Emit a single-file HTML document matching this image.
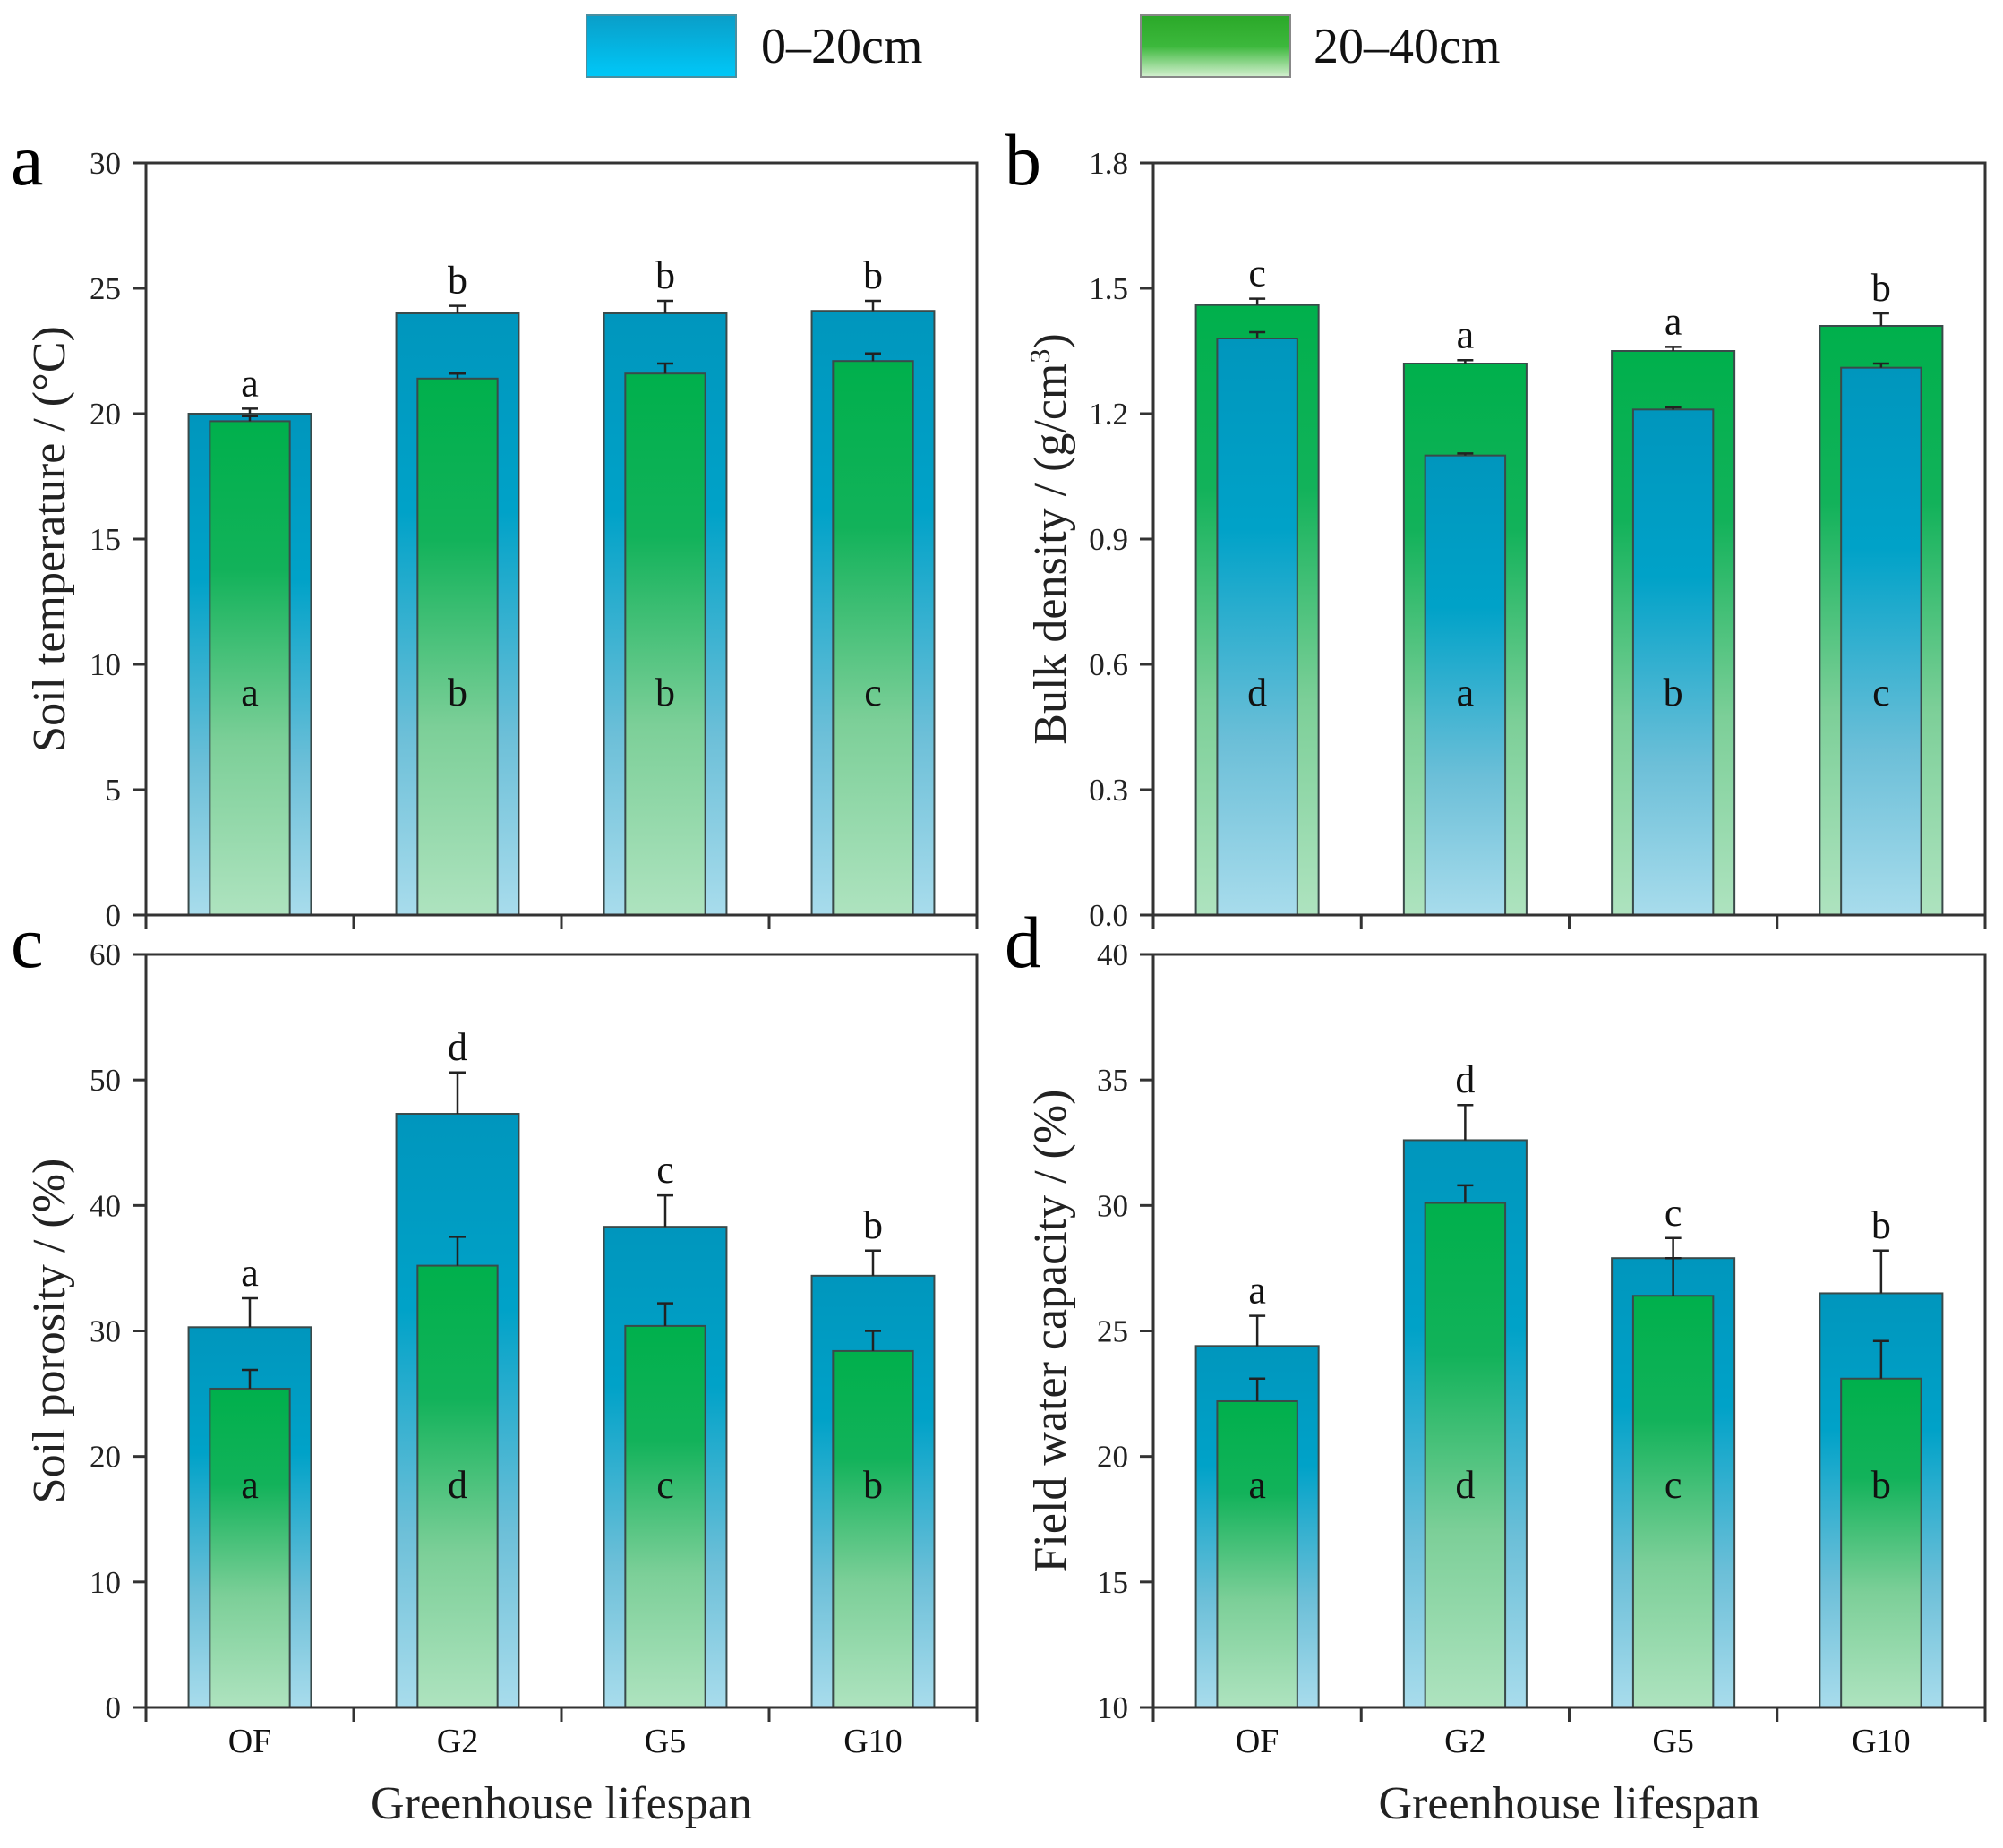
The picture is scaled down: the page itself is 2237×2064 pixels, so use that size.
<!DOCTYPE html>
<html><head><meta charset="utf-8"><style>
html,body{margin:0;padding:0;background:#fff;}
svg{display:block;}
.tk{font-family:"Liberation Serif",serif;font-size:35px;fill:#222;}
.cat{font-family:"Liberation Serif",serif;font-size:38px;fill:#111;}
.sig{font-family:"Liberation Serif",serif;font-size:44px;fill:#111;}
.pl{font-family:"Liberation Serif",serif;font-size:82px;fill:#000;}
.yt{font-family:"Liberation Serif",serif;font-size:52px;fill:#222;}
.xt{font-family:"Liberation Serif",serif;font-size:52px;fill:#222;}
.lg{font-family:"Liberation Serif",serif;font-size:56px;fill:#111;}
</style></head><body>
<svg id="chart" width="2237" height="2064" viewBox="0 0 2237 2064" xmlns="http://www.w3.org/2000/svg">
<defs>
<linearGradient id="gBlue" x1="0" y1="0" x2="0" y2="1">
<stop offset="0" stop-color="#0096bd"/><stop offset="0.33" stop-color="#00a2c8"/><stop offset="0.7" stop-color="#6cbfd8"/><stop offset="1" stop-color="#a8dcec"/></linearGradient>
<linearGradient id="gGreen" x1="0" y1="0" x2="0" y2="1">
<stop offset="0" stop-color="#00b04c"/><stop offset="0.3" stop-color="#12b25a"/><stop offset="0.65" stop-color="#7ccf98"/><stop offset="1" stop-color="#aee3bf"/></linearGradient>
<linearGradient id="lBlue" x1="0" y1="0" x2="0" y2="1"><stop offset="0" stop-color="#0a9ec8"/><stop offset="1" stop-color="#00c8f8"/></linearGradient>
<linearGradient id="lGreen" x1="0" y1="0" x2="0" y2="1"><stop offset="0" stop-color="#2aa828"/><stop offset="0.5" stop-color="#3cb83c"/><stop offset="1" stop-color="#d4f0d0"/></linearGradient>
</defs>
<g>
<rect x="655" y="17" width="167" height="69" fill="url(#lBlue)" stroke="#4a8fa0" stroke-width="2"/>
<text class="lg" x="850" y="70">0–20cm</text>
<rect x="1274" y="17" width="167" height="69" fill="url(#lGreen)" stroke="#888" stroke-width="2"/>
<text class="lg" x="1467" y="70">20–40cm</text>
</g>
<g id="panels"></g>
</svg>
<script>
const categories = ["OF","G2","G5","G10"];
// panel a: soil temperature
const aBlue = [20.0,24.0,24.0,24.1], aBlueErr = [0.2,0.3,0.5,0.4];
const aGreen = [19.7,21.4,21.6,22.1], aGreenErr = [0.2,0.2,0.4,0.3];
const aTopSig = ["a","b","b","b"], aInSig = ["a","b","b","c"];
const aTicks = ["0","5","10","15","20","25","30"];
// panel b: bulk density (outer green, inner blue)
const bGreen = [1.46,1.32,1.35,1.41], bGreenErr = [0.015,0.008,0.01,0.03];
const bBlue = [1.38,1.10,1.21,1.31], bBlueErr = [0.015,0.005,0.005,0.01];
const bTopSig = ["c","a","a","b"], bInSig = ["d","a","b","c"];
const bTicks = ["0.0","0.3","0.6","0.9","1.2","1.5","1.8"];
// panel c: soil porosity
const cBlue = [30.3,47.3,38.3,34.4], cBlueErr = [2.3,3.3,2.5,2.0];
const cGreen = [25.4,35.2,30.4,28.4], cGreenErr = [1.5,2.3,1.8,1.6];
const cTopSig = ["a","d","c","b"], cInSig = ["a","d","c","b"];
const cTicks = ["0","10","20","30","40","50","60"];
// panel d: field water capacity
const dBlue = [24.4,32.6,27.9,26.5], dBlueErr = [1.2,1.4,0.8,1.7];
const dGreen = [22.2,30.1,26.4,23.1], dGreenErr = [0.9,0.7,1.5,1.5];
const dTopSig = ["a","d","c","b"], dInSig = ["a","d","c","b"];
const dTicks = ["10","15","20","25","30","35","40"];

const NS="http://www.w3.org/2000/svg";
const root=document.getElementById('panels');
function mk(tag,attrs,parent){const e=document.createElementNS(NS,tag);for(const k in attrs)e.setAttribute(k,attrs[k]);(parent||root).appendChild(e);return e;}

function panel(o){
  const g=mk('g',{});
  
  
  const L=o.x0,R=o.x1,T=o.y0,B=o.y1;
  const ymin=parseFloat(o.ticks[0]),ymax=parseFloat(o.ticks[o.ticks.length-1]);
  const y=v=>B-(v-ymin)/(ymax-ymin)*(B-T);
  const step=(R-L)/categories.length;
  const cx=i=>L+step*(i+0.5);
  const wo=step*0.59, wi=step*0.385;
  function bars(vals,errs,w,fill,nm){
    vals.forEach((v,i)=>{
      const r=mk('rect',{x:cx(i)-w/2,y:y(v),width:w,height:B-y(v),fill:fill,stroke:'#3a4a4a','stroke-width':2},g);
      
      
      const e=mk('path',{d:`M${cx(i)} ${y(v)}V${y(v+errs[i])}M${cx(i)-9} ${y(v+errs[i])}H${cx(i)+9}`,stroke:'#222','stroke-width':2.5,fill:'none'},g);
      
      
    });
  }
  bars(o.outer,o.outerErr,wo,o.outerFill,o.outerName);
  bars(o.inner,o.innerErr,wi,o.innerFill,o.innerName);
  o.outer.forEach((v,i)=>{
    const t=mk('text',{x:cx(i),y:y(v+o.outerErr[i])-14,'text-anchor':'middle',class:'sig'},g);
    t.textContent=o.topSig[i];
    
    
    const t2=mk('text',{x:cx(i),y:B-234,'text-anchor':'middle',class:'sig'},g);
    t2.textContent=o.inSig[i];
    
    
  });
  const f=mk('rect',{x:L,y:T,width:R-L,height:B-T,fill:'none',stroke:'#333','stroke-width':3},g);
  
  
  o.ticks.forEach(tk=>{
    const v=parseFloat(tk);
    const l=mk('line',{x1:L-15,x2:L,y1:y(v),y2:y(v),stroke:'#333','stroke-width':3},g);
    
    
    const t=mk('text',{x:L-28,y:y(v)+12,'text-anchor':'end',class:'tk'},g);
    t.textContent=tk;
    
    
  });
  for(let i=0;i<=categories.length;i++){
    const xx=L+step*i;
    const l=mk('line',{x1:xx,x2:xx,y1:B,y2:B+16,stroke:'#333','stroke-width':3},g);
    
    
  }
  if(o.xlabels){
    categories.forEach((c,i)=>{
      const t=mk('text',{x:cx(i),y:B+50,'text-anchor':'middle',class:'cat'},g);
      t.textContent=c;
      
      
    });
    const xt=mk('text',{x:(L+R)/2,y:B+124,'text-anchor':'middle',class:'xt'},g);
    xt.textContent='Greenhouse lifespan';
    
    
  }
  const yt=mk('text',{x:0,y:0,'text-anchor':'middle',class:'yt',transform:`translate(${o.ytx},${(T+B)/2}) rotate(-90)`},g);
  yt.innerHTML=o.ytitle;
  
  
  const pl=mk('text',{x:o.plx,y:o.ply,class:'pl'},g);
  pl.textContent=o.id;
  
  
}
const B='url(#gBlue)',G='url(#gGreen)';
panel({id:'a',x0:163,x1:1091,y0:182,y1:1022,ticks:aTicks,outer:aBlue,outerErr:aBlueErr,outerFill:B,outerName:'0-20cm',inner:aGreen,innerErr:aGreenErr,innerFill:G,innerName:'20-40cm',topSig:aTopSig,inSig:aInSig,ytitle:'Soil temperature / (°C)',ytx:72,plx:12,ply:206});
panel({id:'b',x0:1288,x1:2217,y0:182,y1:1022,ticks:bTicks,outer:bGreen,outerErr:bGreenErr,outerFill:G,outerName:'20-40cm',inner:bBlue,innerErr:bBlueErr,innerFill:B,innerName:'0-20cm',topSig:bTopSig,inSig:bInSig,ytitle:'Bulk density / (g/cm<tspan dy="-18" font-size="32">3</tspan><tspan dy="18">)</tspan>',ytx:1190,plx:1122,ply:206});
panel({id:'c',x0:163,x1:1091,y0:1066,y1:1907,ticks:cTicks,outer:cBlue,outerErr:cBlueErr,outerFill:B,outerName:'0-20cm',inner:cGreen,innerErr:cGreenErr,innerFill:G,innerName:'20-40cm',topSig:cTopSig,inSig:cInSig,ytitle:'Soil porosity / (%)',ytx:72,plx:12,ply:1080,xlabels:true});
panel({id:'d',x0:1288,x1:2217,y0:1066,y1:1907,ticks:dTicks,outer:dBlue,outerErr:dBlueErr,outerFill:B,outerName:'0-20cm',inner:dGreen,innerErr:dGreenErr,innerFill:G,innerName:'20-40cm',topSig:dTopSig,inSig:dInSig,ytitle:'Field water capacity / (%)',ytx:1190,plx:1122,ply:1080,xlabels:true});
</script>
</body></html>
